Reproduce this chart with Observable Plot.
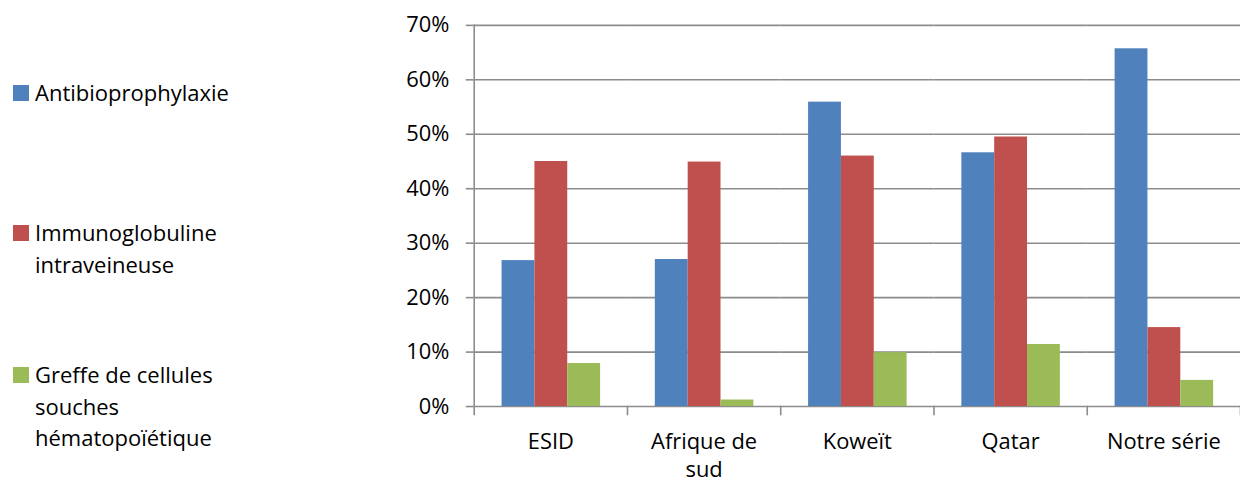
<!DOCTYPE html>
<html>
<head>
<meta charset="utf-8">
<script src="https://cdn.jsdelivr.net/npm/d3@7"></script>
<script src="https://cdn.jsdelivr.net/npm/@observablehq/plot@0.6"></script>
<style>
  html, body { margin: 0; padding: 0; background: #fff; overflow: hidden; }
  #wrap { position: relative; width: 1240px; height: 483px; overflow: hidden; }
  #legend { position: absolute; left: 0; top: 0; font-family: "Open Sans", sans-serif; font-size: 22px; color: #000; }
  .item { position: absolute; left: 13px; display: flex; align-items: flex-start; }
  .sw { width: 16px; height: 16px; margin-top: 8px; margin-right: 6px; flex: none; }
  .lab { width: 215px; line-height: 31.5px; }
  svg { position: absolute; left: 0; top: 0; }
</style>
</head>
<body>
<div id="wrap">
  <div id="chart"></div>
  <div id="legend"></div>
</div>
<script>
const categories = ["ESID", "Afrique de sud", "Koweït", "Qatar", "Notre série"];
const series = ["Antibioprophylaxie", "Immunoglobuline intraveineuse", "Greffe de cellules souches hématopoïétique"];
const colors = ["#4F81BD", "#C0504D", "#9BBB59"];
const antibioprophylaxie = [0.268, 0.270, 0.559, 0.466, 0.657];
const immunoglobuline = [0.450, 0.449, 0.460, 0.495, 0.145];
const greffe = [0.079, 0.012, 0.099, 0.114, 0.048];
const yTicks = [0, 0.1, 0.2, 0.3, 0.4, 0.5, 0.6, 0.7];
const categoryLabels = {"Afrique de sud": "Afrique de\nsud"};
const legendTops = [77, 217, 359];

const valuesBySeries = [antibioprophylaxie, immunoglobuline, greffe];
const rows = [];
categories.forEach((c, i) => series.forEach((s, j) => rows.push({category: c, series: s, value: valuesBySeries[j][i]})));

const W = 1246, H = 483, mL = 476, mT = 25, mB = 75;
const font = "'Open Sans', sans-serif";

const chart = Plot.plot({
  width: W,
  height: H,
  marginLeft: mL,
  marginRight: 0,
  marginTop: mT,
  marginBottom: mB,
  style: {fontFamily: font, fontSize: "22px", color: "#000", background: "transparent", overflow: "visible"},
  fx: {domain: categories, padding: 0, paddingInner: 0, paddingOuter: 0, label: null},
  x: {domain: series, paddingInner: 0, paddingOuter: 0.765, axis: null},
  y: {domain: [0, 0.7], label: null},
  color: {domain: series, range: colors},
  marks: [
    Plot.gridY(yTicks, {stroke: "#8c8c8c", strokeOpacity: 1, strokeWidth: 1.6}),
    Plot.barY(rows, {fx: "category", x: "series", y: "value", fill: "series"}),
    Plot.frame({anchor: "left", fx: () => categories[0], stroke: "#8c8c8c", strokeWidth: 1.6, insetBottom: -8}),
    Plot.frame({anchor: "right", stroke: "#8c8c8c", strokeWidth: 1.6, insetTop: H - mT - mB, insetBottom: -8}),
    Plot.axisY({ticks: yTicks, tickFormat: d3.format(".0%"), tickSize: 8, tickPadding: 17, stroke: "#8c8c8c", strokeWidth: 1.6, strokeOpacity: 1, label: null, fontSize: 22}),
    Plot.axisFx({anchor: "bottom", tickSize: 0, tickPadding: 22, label: null, tickFormat: d => categoryLabels[d] ?? d, lineHeight: 1.3, fontSize: 22})
  ]
});
document.getElementById("chart").appendChild(chart);

const legend = document.getElementById("legend");
series.forEach((s, i) => {
  const item = document.createElement("div");
  item.className = "item";
  item.style.top = legendTops[i] + "px";
  const sw = document.createElement("div");
  sw.className = "sw";
  sw.style.background = colors[i];
  const lab = document.createElement("div");
  lab.className = "lab";
  lab.textContent = s;
  item.appendChild(sw);
  item.appendChild(lab);
  legend.appendChild(item);
});
</script>
</body>
</html>
